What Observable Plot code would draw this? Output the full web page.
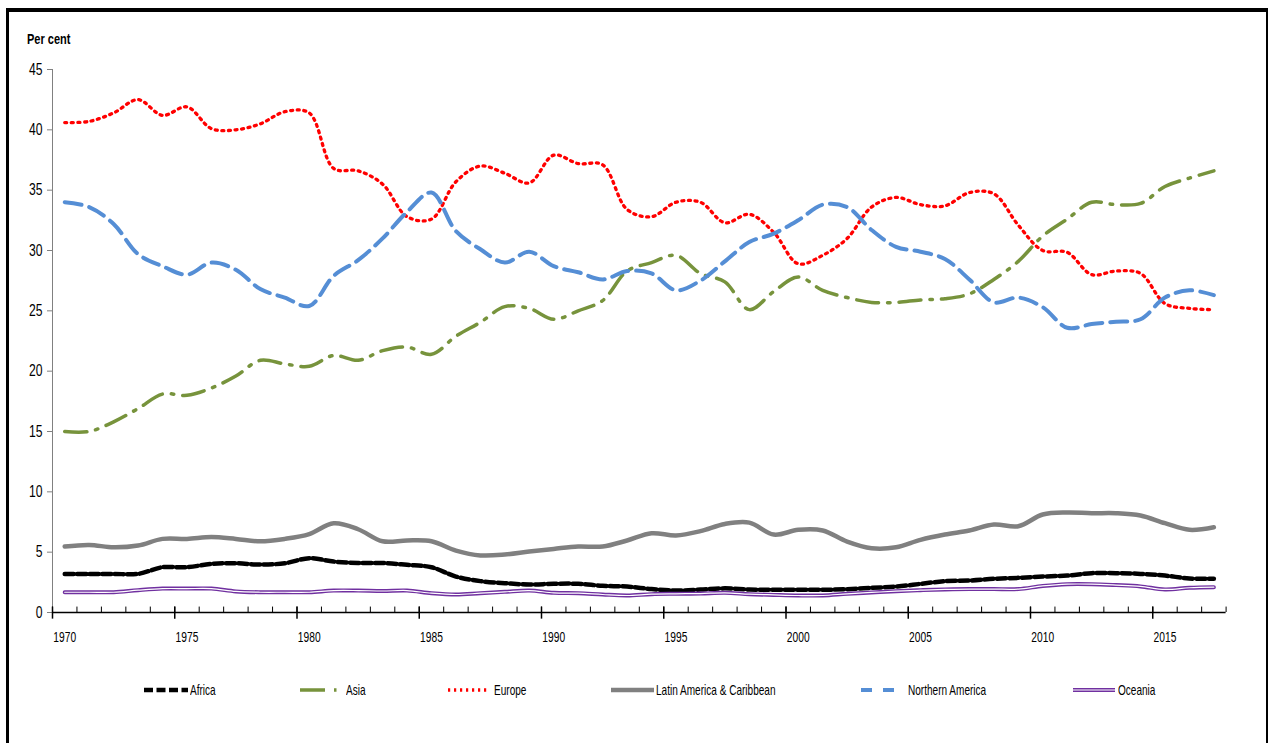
<!DOCTYPE html>
<html>
<head>
<meta charset="utf-8">
<script src="https://cdn.jsdelivr.net/npm/d3@7"></script>
<script src="https://cdn.jsdelivr.net/npm/@observablehq/plot@0.6"></script>
<style>
  html, body { margin: 0; padding: 0; background: #fff; }
  body { width: 1268px; height: 743px; position: relative; overflow: hidden;
         font-family: "Liberation Sans", Arial, sans-serif; }
  #frame { position: absolute; left: 6px; top: 8px; width: 1262px; height: 800px; box-sizing: border-box;
           border-top: 4px solid #000; border-left: 3px solid #000; border-right: 2px solid #000; }
  #ylabel { position: absolute; left: 27px; top: 31px; font-size: 14.5px; font-weight: bold; color: #000;
            transform: scaleX(0.76); transform-origin: left center; white-space: nowrap; }
  #chart { position: absolute; left: 0; top: 0; }
  .leg { position: absolute; top: 682px; height: 16px; left: 0; }
  .leg svg { position: absolute; top: 0; }
  .leg span { position: absolute; top: 0; font-size: 15px; line-height: 16px; color: #000; white-space: nowrap;
              transform: scaleX(0.67); transform-origin: left center; }
</style>
</head>
<body>
<div id="frame"></div>
<div id="ylabel">Per cent</div>
<div id="chart"></div>
<div id="legend"></div>
<script>
// ---- Data ----
const years = d3.range(1970, 2018);
const seriesNames = ["Africa", "Asia", "Europe", "Latin America & Caribbean", "Northern America", "Oceania"];
const africa = [3.2, 3.2, 3.2, 3.2, 3.75, 3.75, 4.03, 4.08, 3.97, 4.08, 4.5,
  4.22, 4.1, 4.1, 3.95, 3.75, 2.98, 2.6, 2.43, 2.32, 2.38,
  2.38, 2.21, 2.15, 1.94, 1.82, 1.9, 2.0, 1.9, 1.88, 1.88,
  1.88, 1.93, 2.04, 2.15, 2.37, 2.6, 2.65, 2.79, 2.87, 2.98,
  3.06, 3.26, 3.26, 3.2, 3.06, 2.82, 2.79];
const asia = [15.0, 15.0, 15.8, 16.9, 18.1, 18.0, 18.6, 19.6, 20.9, 20.6, 20.4,
  21.3, 20.9, 21.7, 22.0, 21.4, 22.9, 24.05, 25.35, 25.2, 24.3,
  25.0, 25.85, 28.3, 29.0, 29.6, 28.1, 27.4, 25.1, 26.6, 27.8,
  26.7, 26.1, 25.7, 25.7, 25.9, 26.0, 26.4, 27.6, 29.1, 31.2,
  32.6, 34.0, 33.8, 33.9, 35.3, 36.0, 36.6];
const europe = [40.6, 40.7, 41.4, 42.5, 41.2, 41.9, 40.1, 40.0, 40.5, 41.5, 41.4,
  36.8, 36.6, 35.5, 32.8, 32.6, 35.7, 37.0, 36.4, 35.6, 37.9,
  37.2, 37.1, 33.4, 32.8, 34.0, 34.0, 32.3, 33.0, 31.5, 28.9,
  29.6, 31.0, 33.6, 34.4, 33.8, 33.7, 34.8, 34.7, 32.1, 30.0,
  29.85, 28.0, 28.3, 28.1, 25.6, 25.2, 25.1];
const latinAmerica = [5.47, 5.6, 5.4, 5.55, 6.1, 6.1, 6.25, 6.1, 5.9, 6.1, 6.5,
  7.4, 6.9, 5.9, 5.97, 5.9, 5.13, 4.73, 4.8, 5.05, 5.27,
  5.47, 5.47, 5.97, 6.57, 6.38, 6.74, 7.34, 7.45, 6.46, 6.85,
  6.8, 5.88, 5.33, 5.41, 6.02, 6.46, 6.8, 7.29, 7.15, 8.12,
  8.29, 8.23, 8.23, 8.04, 7.4, 6.85, 7.07];
const northernAmerica = [34.0, 33.6, 32.2, 29.7, 28.7, 28.0, 29.0, 28.4, 26.8, 26.1, 25.4,
  27.9, 29.2, 31.0, 33.2, 34.8, 31.6, 30.1, 29.0, 29.9, 28.7,
  28.2, 27.6, 28.3, 28.1, 26.7, 27.5, 29.1, 30.7, 31.4, 32.5,
  33.8, 33.6, 31.7, 30.3, 29.9, 29.3, 27.6, 25.7, 26.1, 25.3,
  23.6, 23.9, 24.1, 24.3, 26.1, 26.7, 26.3];
const oceania = [1.68, 1.68, 1.68, 1.85, 1.98, 1.98, 1.98, 1.75, 1.68, 1.68, 1.68,
  1.82, 1.82, 1.78, 1.82, 1.6, 1.49, 1.6, 1.71, 1.82, 1.63,
  1.6, 1.49, 1.41, 1.52, 1.55, 1.57, 1.63, 1.52, 1.46, 1.41,
  1.41, 1.55, 1.66, 1.77, 1.85, 1.91, 1.94, 1.94, 1.94, 2.2,
  2.35, 2.35, 2.27, 2.16, 1.91, 2.05, 2.1];
const yTicks = [0, 5, 10, 15, 20, 25, 30, 35, 40, 45];
const xTickLabels = [1970, 1975, 1980, 1985, 1990, 1995, 2000, 2005, 2010, 2015];

const seriesValues = [africa, asia, europe, latinAmerica, northernAmerica, oceania];

// ---- Styles ----
const styles = {
  "Africa": {stroke: "#000000", strokeWidth: 4.5, dash: "9,3.5", legDash: "9,3.5"},
  "Asia": {stroke: "#77933C", strokeWidth: 3.5, dash: "22,9,2.5,9", legDash: "25,9,2.5,9"},
  "Europe": {stroke: "#FF0000", strokeWidth: 3.3, dash: "2,4.6", legDash: "2.2,3.8"},
  "Latin America & Caribbean": {stroke: "#808080", strokeWidth: 4.5, dash: null, legDash: null},
  "Northern America": {stroke: "#558ED5", strokeWidth: 4, dash: "17,8", legDash: "11,11"},
  "Oceania": {stroke: "#7030A0", strokeWidth: 4, dash: null, legDash: null, inner: "#ffffff"}
};

const tables = seriesNames.map((name, k) => years.map((year, i) => ({series: name, year, value: seriesValues[k][i]})));

const boundaries = d3.range(1969.5, 2018, 1);
const majorBoundaries = boundaries.filter(b => (b + 0.5) % 5 === 0);

const lineMarks = [];
seriesNames.forEach((name, k) => {
  const s = styles[name];
  lineMarks.push(Plot.line(tables[k], {
    x: "year", y: "value", stroke: s.stroke, strokeWidth: s.strokeWidth,
    strokeDasharray: s.dash || undefined, curve: "catmull-rom", strokeLinejoin: "round"
  }));
  if (s.inner) {
    lineMarks.push(Plot.line(tables[k], {
      x: "year", y: "value", stroke: s.inner, strokeWidth: 1.2, curve: "catmull-rom"
    }));
  }
});

const chart = Plot.plot({
  width: 1268,
  height: 650,
  marginLeft: 52,
  marginRight: 42.4,
  marginTop: 69,
  marginBottom: 38,
  style: {background: "transparent", fontFamily: '"Liberation Sans", Arial, sans-serif', overflow: "visible"},
  x: {domain: [1969.5, 2017.5]},
  y: {domain: [0, 45]},
  marks: [
    Plot.ruleX([1969.5], {y1: 0, y2: 45, stroke: "#808080", strokeWidth: 1}),
    Plot.axisY({ticks: yTicks, tickSize: 5, tickPadding: 5, fontSize: 16, stroke: "#808080", fill: "#000", label: null, tickFormat: d => String(d)}),
    Plot.ruleX(boundaries, {y1: 0, y2: 0.45, stroke: "#000", strokeWidth: 1}),
    Plot.ruleX(majorBoundaries, {y1: -0.55, y2: 0.45, stroke: "#000", strokeWidth: 1.5}),
    Plot.ruleY([0], {x1: 1969.5, x2: 2017.5, stroke: "#000", strokeWidth: 1.3}),
    Plot.axisX({ticks: xTickLabels, tickSize: 0, tickPadding: 18, fontSize: 15.5, fill: "#000", label: null, tickFormat: d => String(d)}),
    ...lineMarks
  ]
});
document.getElementById("chart").appendChild(chart);

// Condense tick label text horizontally (the original uses a narrow face)
function condense(selector, factor) {
  chart.querySelectorAll(selector).forEach(t => {
    const len = t.getComputedTextLength();
    t.setAttribute("textLength", (len * factor).toFixed(2));
    t.setAttribute("lengthAdjust", "spacingAndGlyphs");
  });
}
condense('g[aria-label="y-axis tick label"] text', 0.76);
condense('g[aria-label="x-axis tick label"] text', 0.66);

// ---- Legend (HTML) ----
const legendLayout = [
  {swatchX: 144, swatchW: 44, textX: 190},
  {swatchX: 300, swatchW: 37, textX: 346},
  {swatchX: 448, swatchW: 42, textX: 494},
  {swatchX: 611, swatchW: 43, textX: 656},
  {swatchX: 861, swatchW: 34, textX: 908},
  {swatchX: 1073, swatchW: 42, textX: 1118}
];
const legend = document.getElementById("legend");
const ns = "http://www.w3.org/2000/svg";
seriesNames.forEach((name, k) => {
  const s = styles[name];
  const L = legendLayout[k];
  const item = document.createElement("div");
  item.className = "leg";
  const svg = document.createElementNS(ns, "svg");
  svg.setAttribute("width", L.swatchW);
  svg.setAttribute("height", 16);
  svg.style.left = L.swatchX + "px";
  const line = document.createElementNS(ns, "line");
  line.setAttribute("x1", 0); line.setAttribute("x2", L.swatchW);
  line.setAttribute("y1", 8); line.setAttribute("y2", 8);
  line.setAttribute("stroke", s.stroke);
  line.setAttribute("stroke-width", s.strokeWidth);
  if (s.legDash) line.setAttribute("stroke-dasharray", s.legDash);
  svg.appendChild(line);
  if (s.inner) {
    const l2 = document.createElementNS(ns, "line");
    l2.setAttribute("x1", 0); l2.setAttribute("x2", L.swatchW);
    l2.setAttribute("y1", 8); l2.setAttribute("y2", 8);
    l2.setAttribute("stroke", s.inner);
    l2.setAttribute("stroke-width", 1.2);
    svg.appendChild(l2);
  }
  item.appendChild(svg);
  const span = document.createElement("span");
  span.textContent = name;
  span.style.left = L.textX + "px";
  item.appendChild(span);
  legend.appendChild(item);
});
</script>
</body>
</html>
